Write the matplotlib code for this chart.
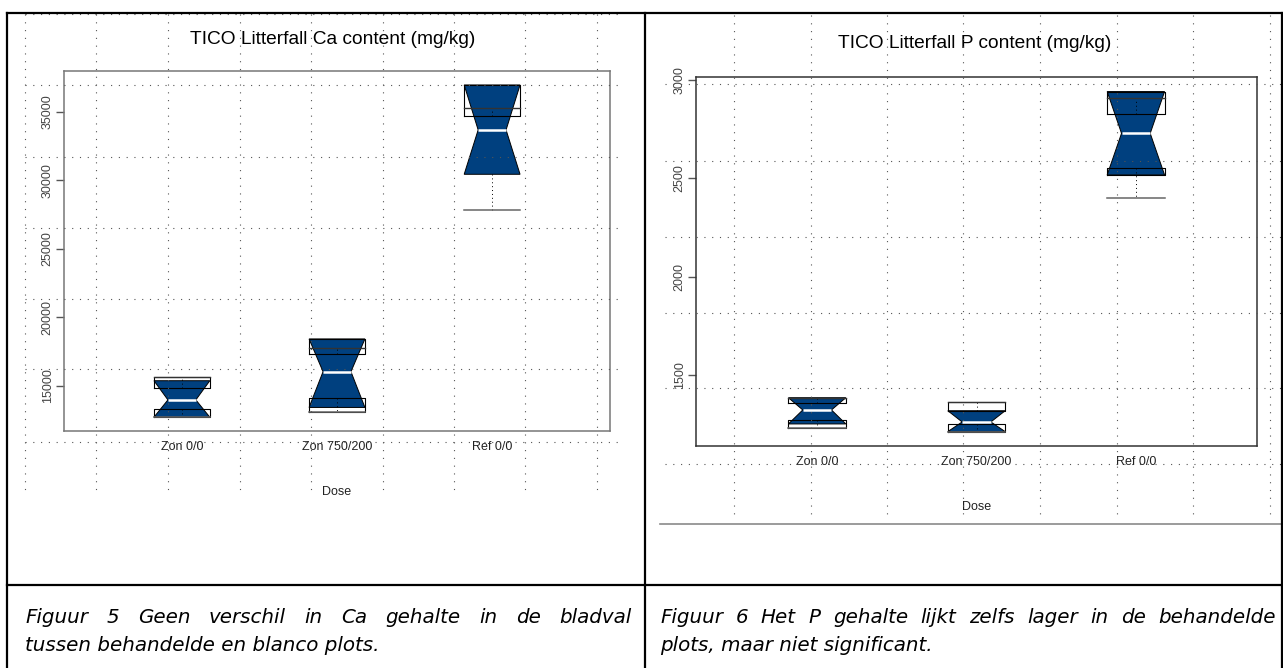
import matplotlib
matplotlib.use("Agg")
import matplotlib.pyplot as plt
from matplotlib.lines import Line2D
from matplotlib.patches import Polygon

W, H = 1283, 668
NAVY = "#00407f"

categories = ["Zon 0/0", "Zon 750/200", "Ref 0/0"]

# Ca content (mg/kg)
ca_box_top = [15670, 18430, 36970]
ca_notch_hi = [15380, 18430, 36970]
ca_q3 = [14850, 17320, 34710]
ca_median = [13980, 16040, 33690]
ca_q1 = [13300, 14130, 30450]
ca_notch_lo = [12720, 13430, 30450]
ca_box_bot = [12720, 13090, 30450]
ca_whisk_hi = [15670, 17800, 35270]
ca_whisk_lo = [12720, 13090, 27850]
ca_yticks = [15000, 20000, 25000, 30000, 35000]

# P content (mg/kg)
p_box_top = [1387, 1364, 2941]
p_notch_hi = [1387, 1321, 2941]
p_q3 = [1359, 1321, 2826]
p_median = [1325, 1264, 2729]
p_q1 = [1274, 1252, 2552]
p_notch_lo = [1254, 1215, 2518]
p_box_bot = [1235, 1215, 2518]
p_whisk_hi = [1387, 1364, 2907]
p_whisk_lo = [1235, 1215, 2400]
p_yticks = [1500, 2000, 2500, 3000]

caption_left = ["Figuur 5 Geen verschil in Ca gehalte in de bladval",
                "tussen behandelde en blanco plots."]
caption_right = ["Figuur 6 Het P gehalte lijkt zelfs lager in de behandelde",
                 "plots, maar niet significant."]

plt.rcParams["font.family"] = ["Liberation Sans", "DejaVu Sans"]

fig = plt.figure(figsize=(W / 100, H / 100), dpi=100)
fig.patch.set_facecolor("white")


def axes_px(x0, y_top, x1, y_bot):
    return fig.add_axes([x0 / W, 1 - y_bot / H, (x1 - x0) / W, (y_bot - y_top) / H])


def fig_line(xs, ys, **kw):
    fig.add_artist(Line2D([x / W for x in xs], [1 - y / H for y in ys],
                          transform=fig.transFigure, **kw))


def fig_text(x, y, s, **kw):
    return fig.text(x / W, 1 - y / H, s, **kw)


def draw_boxes(ax, top, nhi, q3, med, q1, nlo, bot, whi, wlo):
    hw = 0.18
    for i in range(len(categories)):
        c = i + 1
        poly = Polygon([(c - hw, nhi[i]), (c + hw, nhi[i]), (c + hw / 2, med[i]),
                        (c + hw, nlo[i]), (c - hw, nlo[i]), (c - hw / 2, med[i])],
                       closed=True, facecolor=NAVY, edgecolor="black", lw=0.7, zorder=2)
        ax.add_patch(poly)
        ax.plot([c - hw / 2, c + hw / 2], [med[i], med[i]], color="white", lw=1.8,
                solid_capstyle="butt", zorder=3)
        if top[i] > q3[i]:
            ax.plot([c - hw, c - hw, c + hw, c + hw, c - hw],
                    [q3[i], top[i], top[i], q3[i], q3[i]], color="black", lw=0.8, zorder=4)
        if q1[i] > bot[i]:
            ax.plot([c - hw, c - hw, c + hw, c + hw, c - hw],
                    [bot[i], q1[i], q1[i], bot[i], bot[i]], color="black", lw=0.8, zorder=4)
        # whiskers
        ax.plot([c, c], [q3[i], whi[i]], color="black", lw=0.7, ls=(0, (1, 3)), zorder=4)
        ax.plot([c, c], [q1[i], wlo[i]], color="black", lw=0.7, ls=(0, (1, 3)), zorder=4)
        ax.plot([c - hw, c + hw], [whi[i], whi[i]], color="#333333", lw=1.0, zorder=4)
        ax.plot([c - hw, c + hw], [wlo[i], wlo[i]], color="#666666", lw=1.1, zorder=4)


def style_axes(ax, ylim, yticks, frame_color):
    ax.set_xlim(0.24, 3.76)
    ax.set_ylim(*ylim)
    ax.set_xticks([1, 2, 3])
    ax.set_xticklabels(categories, fontsize=9, color="#222222")
    ax.set_yticks(yticks)
    ax.set_yticklabels([str(t) for t in yticks], rotation=90, va="center",
                       fontsize=9, color="#444444")
    ax.tick_params(axis="x", length=0, pad=7)
    ax.tick_params(axis="y", length=6, width=1, color="#555555", pad=1.5)
    for s in ax.spines.values():
        s.set_color(frame_color)
        s.set_linewidth(1.1)


# left plot: Ca
ax1 = axes_px(64, 71, 610, 431)
draw_boxes(ax1, ca_box_top, ca_notch_hi, ca_q3, ca_median, ca_q1,
           ca_notch_lo, ca_box_bot, ca_whisk_hi, ca_whisk_lo)
style_axes(ax1, (11710, 37990), ca_yticks, "#777777")
fig_text(333, 39, "TICO Litterfall Ca content (mg/kg)", ha="center", va="center", fontsize=13.8)
fig_text(337, 492, "Dose", ha="center", va="center", fontsize=9, color="#222222")

# right plot: P
ax2 = axes_px(696, 77, 1257, 446)
draw_boxes(ax2, p_box_top, p_notch_hi, p_q3, p_median, p_q1,
           p_notch_lo, p_box_bot, p_whisk_hi, p_whisk_lo)
style_axes(ax2, (1142, 3015), p_yticks, "#333333")
fig_text(975, 44, "TICO Litterfall P content (mg/kg)", ha="center", va="center", fontsize=13.8)
fig_text(977, 507, "Dose", ha="center", va="center", fontsize=9, color="#222222")

# dotted drawing grid over both cells
dot = dict(color="#555555", lw=0.8, ls=(0, (1, 6)), zorder=5)
for x in [25, 96, 168, 240, 311, 383, 454, 525, 597]:
    fig_line([x, x], [14, 492], **dot)
for y in [14, 85, 157, 228, 299, 369, 442]:
    fig_line([25, 621], [y, y], **dot)
for x in [734, 811, 887, 963, 1040, 1117, 1193, 1270]:
    fig_line([x, x], [15, 518], **dot)
for y in [84, 161, 237, 313, 388, 464]:
    fig_line([665, 1283], [y, y], **dot)

fig_line([660, 1283], [524, 524], color="#8a8a8a", lw=1.2)

# table borders
tb = dict(color="black", lw=1.6, zorder=6)
fig_line([7, 1283], [13, 13], **tb)
fig_line([7, 7], [13, 668], **tb)
fig_line([645, 645], [13, 668], **tb)
fig_line([1282, 1282], [13, 668], **tb)
fig_line([7, 1283], [585, 585], **tb)

# captions, justified like the document
renderer = fig.canvas.get_renderer()
cap_kw = dict(fontsize=14.3, style="italic", family="DejaVu Sans", va="baseline")


def caption(lines, x0, x1, ys):
    for n, (line, y) in enumerate(zip(lines, ys)):
        if n == len(lines) - 1:
            fig_text(x0, y, line, **cap_kw)
            continue
        words = line.split()
        arts = [fig_text(x0, y, w, **cap_kw) for w in words]
        widths = [a.get_window_extent(renderer).width for a in arts]
        gap = (x1 - x0 - sum(widths)) / (len(words) - 1)
        x = x0
        for a, w in zip(arts, widths):
            a.set_x(x / W)
            x += w + gap


caption(caption_left, 25, 632, [623, 651])
caption(caption_right, 660, 1276, [623, 651])

fig.savefig("out.png", dpi=100)
